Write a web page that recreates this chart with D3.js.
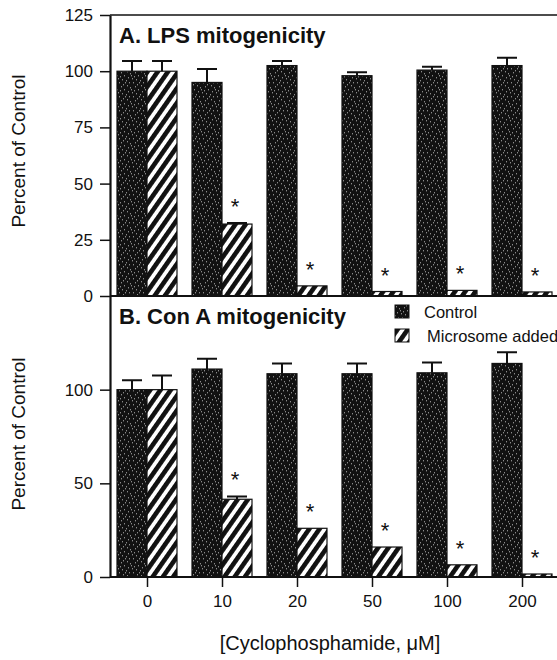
<!DOCTYPE html>
<html>
<head>
<meta charset="utf-8">
<script src="https://cdn.jsdelivr.net/npm/d3@7"></script>
<style>
  body { margin: 0; background: #fff; }
  svg { display: block; font-family: "Liberation Sans", Arial, sans-serif; }
</style>
</head>
<body>
<div id="chart"></div>
<script>
// cyclophosphamide doses (uM)
const doses = ["0", "10", "20", "50", "100", "200"]

// A. LPS mitogenicity, percent of control
const lpsControl = [100, 95, 102.5, 98, 100.5, 102.5]
const lpsControlErr = [4.5, 6, 2, 1.5, 1.5, 3.5]
const lpsMicrosome = [100, 32, 4.5, 2, 2.5, 1.8]
const lpsMicrosomeErr = [4.5, 0.5, 0, 0, 0, 0]

// B. Con A mitogenicity, percent of control
const conControl = [100, 111, 108.5, 108.5, 109, 114]
const conControlErr = [5, 5.5, 5.5, 5.5, 5.5, 6]
const conMicrosome = [100, 41.5, 26, 16, 6.5, 1.6]
const conMicrosomeErr = [7.5, 1.5, 0, 0, 0, 0]

// * = significant vs control
const significant = [false, true, true, true, true, true]

const seriesNames = ["Control", "Microsome added"]

const W = 557, H = 660

const svg = d3.select("#chart").append("svg")
  .attr("width", W)
  .attr("height", H)

const defs = svg.append("defs")

// speckled dark fill for control bars
const speckle = defs.append("pattern")
  .attr("id", "speckle")
  .attr("patternUnits", "userSpaceOnUse")
  .attr("width", 14).attr("height", 14)
speckle.append("rect").attr("width", 14).attr("height", 14).attr("fill", "#111")
const dots = [[1,1],[4,3],[9,2],[12,5],[2,7],[6,8],[10,9],[13,12],[3,12],[7,12],[5,5],[11,0],[0,10],[8,6]]
dots.forEach(([dx, dy]) => {
  speckle.append("rect")
    .attr("x", dx).attr("y", dy)
    .attr("width", 1).attr("height", 1.4)
    .attr("fill", "#8a8a8a")
})

// diagonal hatching for microsome bars
const hatch = defs.append("pattern")
  .attr("id", "hatch")
  .attr("patternUnits", "userSpaceOnUse")
  .attr("width", 8.4).attr("height", 8.4)
  .attr("patternTransform", "rotate(35)")
hatch.append("rect").attr("width", 8.4).attr("height", 8.4).attr("fill", "#fff")
hatch.append("rect").attr("width", 4.6).attr("height", 8.4).attr("fill", "#111")

const x = d3.scalePoint()
  .domain(doses)
  .range([147, 522])

const inner = d3.scaleBand()
  .domain(seriesNames)
  .range([-30, 30])

const yA = d3.scaleLinear().domain([0, 125]).range([296, 15])
const yB = d3.scaleLinear().domain([0, 150]).range([577, 296])

const AXIS_X = 110
const fills = { "Control": "url(#speckle)", "Microsome added": "url(#hatch)" }

function drawPanel(y, control, controlErr, micro, microErr, ticks, title, titleY) {
  const rows = doses.map((d, i) => [
    { dose: d, series: "Control", v: control[i], e: controlErr[i], star: false },
    { dose: d, series: "Microsome added", v: micro[i], e: microErr[i], star: significant[i] }
  ]).flat()

  const g = svg.append("g")

  g.selectAll(".bar")
    .data(rows)
    .enter().append("rect")
      .attr("class", "bar")
      .attr("x", d => x(d.dose) + inner(d.series))
      .attr("y", d => y(d.v))
      .attr("width", inner.bandwidth())
      .attr("height", d => y(0) - y(d.v))
      .attr("fill", d => fills[d.series])
      .attr("stroke", "#111")
      .attr("stroke-width", 1.2)

  const withErr = rows.filter(d => d.e > 0)
  const cx = d => x(d.dose) + inner(d.series) + inner.bandwidth() / 2

  g.selectAll(".err")
    .data(withErr)
    .enter().append("path")
      .attr("class", "err")
      .attr("d", d => `M${cx(d)},${y(d.v)}V${y(d.v + d.e)}M${cx(d) - 10},${y(d.v + d.e)}H${cx(d) + 10}`)
      .attr("stroke", "#111")
      .attr("stroke-width", 2)
      .attr("fill", "none")

  g.selectAll(".star")
    .data(rows.filter(d => d.star))
    .enter().append("text")
      .attr("class", "star")
      .attr("x", d => cx(d) - 2)
      .attr("y", d => y(d.v + d.e) - 9)
      .attr("text-anchor", "middle")
      .attr("font-size", 22)
      .attr("fill", "#111")
      .text("*")

  // baseline across the panel
  g.append("line")
    .attr("x1", AXIS_X).attr("x2", W)
    .attr("y1", y(0)).attr("y2", y(0))
    .attr("stroke", "#111").attr("stroke-width", 2)

  const axis = g.append("g")
    .attr("transform", `translate(${AXIS_X},0)`)
    .call(d3.axisLeft(y).tickValues(ticks).tickSize(10).tickPadding(7).tickSizeOuter(0))
  axis.select(".domain").attr("stroke", "#111").attr("stroke-width", 2.2)
  axis.selectAll(".tick line").attr("stroke", "#111").attr("stroke-width", 1.5)
  axis.selectAll(".tick text")
    .attr("font-size", 17)
    .attr("font-family", "Liberation Sans, Arial, sans-serif")
    .attr("fill", "#111")

  g.append("text")
    .attr("x", 119)
    .attr("y", titleY)
    .attr("font-size", 22)
    .attr("font-weight", "bold")
    .attr("fill", "#111")
    .text(title)

  return g
}

drawPanel(yA, lpsControl, lpsControlErr, lpsMicrosome, lpsMicrosomeErr,
  [0, 25, 50, 75, 100, 125], "A. LPS mitogenicity", 43)
drawPanel(yB, conControl, conControlErr, conMicrosome, conMicrosomeErr,
  [0, 50, 100], "B. Con A mitogenicity", 324)

// top frame line
svg.append("line")
  .attr("x1", AXIS_X).attr("x2", W)
  .attr("y1", yA(125)).attr("y2", yA(125))
  .attr("stroke", "#111").attr("stroke-width", 1.5)

// x axis under panel B
const xAxis = svg.append("g")
  .attr("transform", `translate(0,${yB(0)})`)
  .call(d3.axisBottom(x).tickSize(10).tickPadding(8))
xAxis.select(".domain").remove()
xAxis.selectAll(".tick line").attr("stroke", "#111").attr("stroke-width", 1.5)
xAxis.selectAll(".tick text")
  .attr("font-size", 17)
  .attr("font-family", "Liberation Sans, Arial, sans-serif")
  .attr("fill", "#111")

// y labels
;[[151], [434]].forEach(([cy]) => {
  svg.append("text")
    .attr("transform", `translate(25,${cy}) rotate(-90)`)
    .attr("text-anchor", "middle")
    .attr("font-size", 19)
    .attr("fill", "#111")
    .text("Percent of Control")
})

svg.append("text")
  .attr("x", 330)
  .attr("y", 650)
  .attr("text-anchor", "middle")
  .attr("font-size", 20)
  .attr("fill", "#111")
  .text("[Cyclophosphamide, \u03bcM]")

// legend
const legend = svg.append("g")
  .selectAll("g")
  .data(seriesNames)
  .enter().append("g")
    .attr("transform", (d, i) => `translate(395,${305 + i * 24})`)
legend.append("rect")
  .attr("width", 14).attr("height", 13)
  .attr("fill", d => fills[d])
  .attr("stroke", "#111").attr("stroke-width", 1)
legend.append("text")
  .attr("x", (d, i) => i === 0 ? 29 : 32)
  .attr("y", 13)
  .attr("font-size", 16.5)
  .attr("fill", "#111")
  .text(d => d)
</script>
</body>
</html>
